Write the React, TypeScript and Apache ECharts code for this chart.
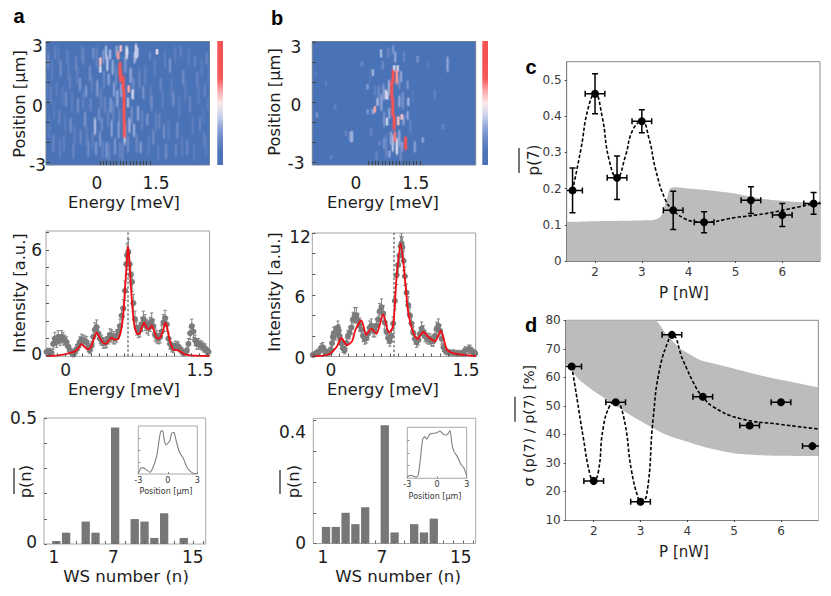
import React, { useEffect, useRef } from "react";
import * as echarts from "echarts";

// ---------- data ----------
const heatColors = ["#4a72b6","#4c74b7","#6685c2","#8ea4d7","#cbd5ee","#fde6e6","#faa8a8","#f65757","#f55353","#f55353","#f55353"];
// [energy, position top, position bottom, level]
const streaksA = [
[-1.58,1.2,.1,.14],[-1.52,-.6,-1.9,.15],[-1.44,2.2,1,.15],[-1.38,.2,-.9,.14],[-1.25,2.9,1.9,.15],[-1.2,-1.7,-2.9,.16],[-1.12,.9,-.2,.15],[-1.05,-.5,-1.6,.15],[-.95,2.1,1,.16],[-.84,.6,-.5,.16],[-.76,-1,-2.2,.16],[-.68,1.9,.8,.16],[-.55,2.9,2,.15],[-.5,.6,-.4,.17],[-.4,-1.1,-2.3,.17],[-.25,1.4,.4,.17],[-.22,-1.4,-2.4,.17],[-.1,2.9,1.6,.18],[.03,.8,-.4,.18],[.08,-1.8,-2.9,.18],[.12,1.7,.6,.19],[.24,-.2,-1.3,.18],[.28,-2,-3,.18],[.4,.2,-1,.19],[.48,1.9,.7,.2],[.58,-.2,-1.3,.2],[.68,-2,-3,.2],[.76,2.4,1.4,.25],[.84,-1.6,-2.6,.22],[.95,-.1,-1.2,.22],[1,1.3,.4,.22],[1.1,-1.5,-2.6,.2],[1.18,1.7,.6,.2],[1.26,-.3,-1.5,.18],[1.36,1.9,.8,.18],[1.46,-1.6,-2.7,.17],[1.52,.9,-.2,.17],[1.64,2.3,1.2,.17],[1.68,-.4,-1.6,.17],[1.75,-2,-3,.16],[1.88,.7,-.4,.16],[1.95,2.7,1.6,.16],[2.05,-.8,-2,.16],[2.15,1.3,.1,.16],[2.25,2.9,1.9,.16],[2.38,.4,-.8,.16],[2.46,-1.6,-2.8,.16],[2.56,1.2,0,.16],[2.66,2.8,1.7,.15],[2.78,-.6,-1.7,.16],[2.82,-2,-3,.15],[2.96,.9,-.2,.15],[3.05,2.3,1.2,.15],[3.1,-.2,-1.2,.14],[3.18,-1.6,-2.8,.15],[3.26,1.9,.7,.14],
[-1.55,2.6,1.6,.2],[-1.48,.9,-.1,.18],[-1.4,-1.5,-2.6,.2],[-1.35,2.9,2.1,.18],[-1.3,1.1,.2,.16],[-1.22,-.3,-1.2,.2],[-1.18,2.2,1.2,.22],[-1.08,-1.6,-2.5,.18],[-1.02,.6,-.3,.22],[-.98,2.7,1.9,.18],[-.9,1.5,.6,.18],[-.88,-.7,-1.6,.22],[-.8,-2,-2.9,.2],[-.72,2.4,1.5,.2],[-.66,.3,-.6,.22],[-.6,1.3,.5,.24],[-.58,-1.3,-2.2,.2],[-.5,2.8,1.8,.2],[-.45,-.4,-1.3,.24],[-.42,.9,.2,.25],[-.35,-1.8,-2.8,.22],[-.3,1.9,1,.22],[-.28,.3,-.5,.2],[-.2,2.8,2.1,.22],[-.15,-.7,-1.7,.34],[-.12,-1.9,-2.7,.24],[-.08,1.2,.2,.26],[-.03,-.2,-1,.22],[0,-1.4,-2.3,.24],[.05,-.7,-1.5,.22],[.1,2.7,1.9,.25],[.14,.4,-.6,.2],[.18,2.9,2.1,.33],[.2,-1.9,-2.9,.25],[.22,2.4,1.5,.36],[.26,1.5,.8,.28],[.3,2.7,2.1,.33],[.32,.3,-.6,.26],[.35,-.8,-1.8,.28],[.38,2.2,1.3,.3],[.42,1.1,.2,.26],[.45,-1.7,-2.7,.24],[.5,2.9,2.2,.3],[.52,.7,-.3,.3],[.56,-.9,-1.9,.26],[.6,-1.9,-2.9,.2],[.64,1,.2,.3],[.8,2.9,2.1,.42],[.84,.3,-.3,.34],[.88,-.7,-1.6,.32],[.92,1.8,.9,.3],[.98,.7,.1,.42],[1.02,-1,-1.8,.3],[1.04,2.6,1.9,.32],[1.08,3,2.1,.4],[1.12,2.8,2.2,.38],[1.14,-.1,-1,.28],[1.22,-1.9,-2.6,.26],[1.3,.9,.1,.24],[1.42,-.5,-1.2,.24],[1.5,2.6,2.1,.2],[1.71,2.7,2.37,.46],[1.92,-1,-1.9,.22],[1.78,-.5,-1.4,.2],[1.82,1.3,.5,.2],[1.98,-2,-2.9,.22],[2.1,2.3,1.4,.24],[2.2,.6,-.3,.22],[2.32,-.9,-1.9,.22],[2.5,1.7,.8,.22],[2.62,-1.8,-2.7,.2],[2.7,.4,-.6,.2],[2.85,2.4,1.7,.18],[2.92,1.6,.7,.2],[3.0,-.6,-1.5,.2],[3.12,-1.4,-2.3,.18],[3.2,2.6,1.8,.2],[3.24,.3,-.5,.16],[3.14,1,.2,.18],[2.42,2.9,2.2,.18],[2.28,-2,-2.8,.2],[1.6,-1.3,-2.2,.22],[1.55,.4,-.5,.22],
[.01,1.87,1.45,.42],[.01,2.3,1.8,.56],[.81,2.75,2.35,.42],[.74,-1,-2.2,.36],[.55,2.6,2.1,.62],[.62,2.9,2.5,.56],[.6,2.1,1.2,.76],[.62,1.7,.95,.76],[.7,1.4,.5,.82],[.72,.85,-1.2,.95],[.73,-.8,-1.85,.76],[.86,.9,.45,.6]
];
const streaksB = [
[-.48,-1.38,-2.05,.35],[-.52,-1.4,-2,.3],[.37,2.7,2.2,.33],[.78,2.6,1.95,.3],[.13,1.7,1.28,.33],[.27,.28,-.22,.35],[.5,.7,.12,.42],[.55,.6,.1,.42],[.54,-.72,-1.2,.4],[1.16,.28,-.22,.33],[1.14,-.4,-.9,.3],[.71,-1.55,-2.55,.36],[.83,-1.7,-2.7,.42],[.97,-1.9,-2.55,.3],[.61,-2.38,-2.8,.3],[2.3,2.37,1.45,.3],[1.58,-1.72,-2.05,.3],[1.43,2.37,1.95,.25],[1.93,.7,.12,.18],[2.16,-1.05,-1.38,.2],[-1.49,-.47,-.8,.25],[-1.52,1.6,1.28,.15],[-.96,-.05,-.38,.18],[-1.23,1.12,.78,.16],[-.65,-1.38,-1.72,.2],[-1.08,-2.63,-2.88,.2],[-.19,2.1,1.78,.22],[-.02,.95,.62,.28],[-.02,-.3,-.63,.25],[.13,-.3,-.63,.3],[1.35,-1.88,-2.55,.28],[1.72,2.1,1.6,.14],[1.04,2.6,1.95,.2],[1.14,1.12,.62,.25],[.95,1.62,.95,.3],[.42,2.1,1.6,.22],[.32,-1.88,-2.2,.2],[.08,-1.22,-1.72,.2],[.46,-1.72,-2.38,.25],[.61,-.22,-.88,.3],[.75,1.9,1.5,.42],[.85,1.9,1.5,.42],[.9,.4,-.3,.3],[.24,-2.4,-2.9,.2],[1.02,-.6,-1.2,.28],[.72,2.9,2.4,.25],[.58,2.8,2.2,.2],
[.3,.9,.1,.22],[.38,.5,-.5,.3],[.44,1,0,.26],[.6,1.2,.3,.32],[.9,1.3,.6,.22],[1,.6,-.4,.24],[.46,-.4,-1.3,.24],[.9,-1.3,-2.3,.3],[.66,-1.4,-2.2,.3],[.2,.9,.3,.18],[1.22,-.8,-1.6,.18],[.52,-1.5,-2.9,.2],[.94,-2.2,-3,.22],[.05,1.6,.9,.14],[1.3,.7,0,.14],
[.72,1.7,.9,.82],[.68,1.2,.05,.95],[.71,.35,-.8,.95],[.75,-.55,-1.45,.86],[.77,-1.4,-2.05,.66],[.83,1.7,.85,.62],[1.08,-1.65,-2.45,.84],[.87,-.65,-1.2,.56],[.97,-.55,-.9,.55],[.19,-.15,-.55,.6]
];
const heatXTicks = [0,.1,.2,.3,.4,.5,.6,.7,.8,.9,1,1.1,1.2,1.3,1.4,1.5];
const heatYTicks = [-3,-2,-1,0,1,2,3];
const heatXLabels = [0,1.5];
const heatYLabels = [-3,0,3];

// [energy, intensity, error]
const pointsA = [[-.23,.25,.2],[-.21,.25,.2],[-.19,.25,.2],[-.17,.2,.2],[-.15,.7,.3],[-.13,1,.35],[-.11,.8,.3],[-.09,1.1,.35],[-.07,.9,.3],[-.05,1.1,.35],[-.03,1,.35],[-.01,.9,.3],[.01,.8,.3],[.03,.55,.25],[.05,.35,.2],[.07,.2,.2],[.09,.1,.2],[.11,.25,.2],[.13,.4,.25],[.15,.6,.25],[.17,.8,.3],[.19,.95,.3],[.21,.9,.3],[.23,.85,.3],[.25,.8,.3],[.27,.5,.25],[.29,.35,.2],[.31,.6,.25],[.33,1.1,.35],[.35,1.5,.4],[.37,1.65,.4],[.39,1.3,.35],[.41,1,.3],[.43,.9,.3],[.45,.75,.3],[.47,.75,.3],[.49,.8,.3],[.51,1,.3],[.53,1.2,.35],[.55,1.15,.35],[.57,1.05,.35],[.59,1,.3],[.61,1.15,.35],[.63,1.4,.35],[.65,1.7,.4],[.67,2.3,.45],[.69,2.7,.5],[.71,3.7,.55],[.725,5.2,.6],[.735,5.7,.65],[.75,5.9,.7],[.765,5.2,.6],[.78,4.6,.6],[.795,4.2,.55],[.81,3,.5],[.83,2.1,.45],[.85,1.6,.4],[.87,1.4,.35],[.89,1.5,.4],[.91,1.8,.4],[.93,2.1,.45],[.95,1.9,.45],[.97,1.7,.4],[.99,1.6,.4],[1.01,1.8,.4],[1.03,2,.45],[1.05,1.7,.4],[1.07,1.2,.35],[1.09,1.1,.35],[1.11,1,.3],[1.13,1.1,.35],[1.15,1.4,.35],[1.17,1.9,.45],[1.19,2.15,.45],[1.21,1.8,.4],[1.23,1,.3],[1.25,.7,.3],[1.27,.5,.25],[1.29,.45,.25],[1.31,.6,.25],[1.33,.6,.25],[1.35,.55,.25],[1.37,.4,.2],[1.39,.3,.2],[1.41,.2,.2],[1.43,.2,.2],[1.45,.3,.2],[1.47,.7,.3],[1.49,1.3,.35],[1.51,1.7,.4],[1.53,1.4,.35],[1.55,.9,.3],[1.57,.7,.3],[1.59,.7,.3],[1.61,.65,.25],[1.63,.6,.25],[1.65,.5,.25],[1.67,.45,.25],[1.69,.3,.2],[1.71,.25,.2]];
const fitA = [[-.23,.02],[-.1,.05],[0,.12],[.05,.2],[.1,.25],[.15,.45],[.19,.7],[.22,.55],[.26,.4],[.3,.5],[.33,.9],[.37,1.35],[.4,1.1],[.44,.8],[.48,.7],[.52,.9],[.55,1.05],[.58,.95],[.62,.95],[.66,1.4],[.69,2.4],[.71,3.8],[.73,5.2],[.745,6.2],[.76,5.6],[.78,4],[.8,2.7],[.82,1.8],[.85,1.3],[.88,1.25],[.91,1.6],[.94,1.9],[.97,1.6],[1,1.55],[1.03,1.75],[1.07,1.25],[1.1,1],[1.13,1.05],[1.17,1.5],[1.19,1.9],[1.21,1.75],[1.24,1],[1.27,.55],[1.3,.35],[1.34,.35],[1.38,.25],[1.42,.12],[1.5,.05],[1.72,.01]];
const pointsB = [[-.22,.15,.25],[-.2,.2,.25],[-.18,.3,.3],[-.16,.4,.3],[-.14,.5,.35],[-.12,.85,.4],[-.1,.9,.45],[-.08,.6,.35],[-.06,.35,.3],[-.04,.35,.3],[-.02,.5,.35],[0,.6,.35],[.01,1.3,.5],[.02,1.9,.55],[.03,2.2,.6],[.04,2.3,.6],[.05,2.2,.6],[.07,2.4,.6],[.08,2.8,.65],[.09,2.5,.6],[.1,2,.55],[.11,1.6,.5],[.12,1.3,.5],[.14,.8,.4],[.16,.6,.35],[.18,1.3,.5],[.2,2,.55],[.22,2.3,.6],[.24,2.8,.65],[.26,3.6,.7],[.28,4,.75],[.3,4,.75],[.32,3.5,.7],[.34,3.1,.65],[.36,2.6,.6],[.38,2,.55],[.4,1.7,.5],[.42,1.8,.5],[.44,2.2,.6],[.46,2.8,.65],[.48,3,.65],[.5,2.5,.6],[.52,2.5,.6],[.54,3,.65],[.56,3.6,.7],[.58,4.4,.75],[.6,4.8,.8],[.62,4.2,.75],[.64,3.3,.65],[.66,2.4,.6],[.68,1.8,.5],[.7,1.5,.5],[.72,2,.55],[.74,3.2,.65],[.76,5.4,.8],[.78,7.9,.9],[.8,8.9,.95],[.815,9.8,1],[.83,10.7,1],[.84,11,1],[.85,10.6,1],[.865,9.3,.95],[.88,7.8,.9],[.9,6.2,.85],[.92,5,.8],[.94,4,.75],[.96,3.2,.65],[.98,2.3,.6],[1,1.7,.5],[1.02,1.4,.5],[1.04,1.6,.5],[1.06,2.2,.6],[1.08,2.7,.65],[1.1,2.4,.6],[1.12,2,.55],[1.14,1.8,.5],[1.16,1.7,.5],[1.18,1.7,.5],[1.2,1.5,.5],[1.22,1.5,.5],[1.24,2,.55],[1.26,2.7,.65],[1.28,3,.65],[1.3,2.5,.6],[1.32,1.7,.5],[1.34,.9,.4],[1.36,.6,.35],[1.38,.45,.3],[1.42,.35,.3],[1.46,.35,.3],[1.5,.3,.3],[1.54,.3,.3],[1.58,.3,.3],[1.6,.6,.35],[1.64,.7,.4],[1.66,.7,.4],[1.68,.5,.35],[1.7,.4,.3],[1.72,.3,.3]];
const fitB = [[-.23,.02],[-.1,.08],[-.01,.3],[.07,1],[.12,1.8],[.19,1.1],[.25,1.5],[.29,2.6],[.36,3.5],[.42,2.1],[.48,2.7],[.54,2.2],[.62,4.1],[.69,2.3],[.74,3],[.78,7.6],[.83,11],[.88,7.6],[.92,4.3],[.98,2.3],[1.03,1.7],[1.1,2.4],[1.16,1.9],[1.24,1.5],[1.31,2.5],[1.38,.7],[1.46,.3],[1.73,.05]];
const lineXTicks = [-.2,-.1,0,.1,.2,.3,.4,.5,.6,.7,.8,.9,1,1.1,1.2,1.3,1.4,1.5,1.6,1.7];
const lineAYTicks = [0,1,2,3,4,5,6,7];
const lineBYTicks = [0,2,4,6,8,10,12];
const lineXLabels = [0,1.5];
const lineAYLabels = [0,6];
const lineBYLabels = [0,6,12];
const markerA = [[.746,0],[.746,7.1]];
const markerB = [[.75,0],[.75,12]];

const barsA = [[1,.012],[2,.045],[4,.089],[5,.045],[7,.462],[9,.099],[10,.089],[11,.024],[12,.122],[14,.024]];
const barsB = [[1,.054],[2,.054],[3,.1],[4,.063],[5,.118],[7,.385],[8,.036],[10,.063],[11,.036],[12,.081]];
const wsTicks = [1,2,3,4,5,6,7,8,9,10,11,12,13,14,15,16];
const wsLabels = [1,7,15];
const barsAYTicks = [0,.1,.2,.3,.4,.5];
const barsBYTicks = [0,.1,.2,.3,.4];
const barsAYLabels = [0,.5];
const barsBYLabels = [0,.4];
const insetA = [[-3,.014],[-2.76,.118],[-2.49,.132],[-2.15,.083],[-1.81,.035],[-1.54,.118],[-1.14,.361],[-.93,.639],[-.73,.882],[-.53,.903],[-.36,.708],[-.19,.604],[.05,.653],[.22,.694],[.39,.847],[.63,.868],[.83,.708],[1.17,.465],[1.58,.326],[1.92,.153],[2.25,.063],[2.59,.014],[3,.007]];
const insetB = [[-3,.02],[-2.73,.059],[-2.39,.046],[-2.12,.02],[-1.89,.065],[-1.65,.425],[-1.45,.765],[-1.21,.817],[-1.04,.765],[-.71,.869],[-.37,.882],[-.03,.895],[.3,.928],[.64,.863],[.98,.85],[1.31,.935],[1.52,.654],[1.72,.523],[2.06,.425],[2.39,.281],[2.73,.196],[3,.046]];
const insetTicks = [-3,0,3];

const powerC = [
  [1.52,.195,.21,.062],[2,.462,.21,.055],[2.47,.23,.21,.06],[3,.386,.21,.032],[3.67,.14,.21,.053],
  [4.33,.107,.21,.029],[5.33,.168,.21,.037],[6,.127,.21,.032],[6.67,.159,.21,.03]];
const fitC = [[1.52,.195],[1.7,.31],[1.85,.42],[2,.462],[2.15,.4],[2.3,.28],[2.47,.23],[2.65,.29],[2.8,.36],[3,.386],[3.15,.34],[3.3,.25],[3.5,.17],[3.67,.14],[3.9,.118],[4.1,.109],[4.33,.107],[5,.12],[5.5,.128],[6,.14],[6.8,.162]];
const bandC = [[1.395,.108],[2,.11],[3,.112],[3.25,.113],[3.4,.122],[3.46,.141],[3.54,.175],[3.6,.2],[3.68,.204],[4.2,.198],[4.95,.187],[5.6,.171],[6.1,.165],[6.806,.159]];
const powerD = [
  [1.53,63.8,.21,0],[2,23.7,.21,0],[2.47,51.3,.21,0],[3,16.4,.21,0],[3.67,74.9,.21,0],
  [4.33,53.2,.21,0],[5.33,43.1,.21,0],[6,51.3,.21,0],[6.67,35.9,.21,0]];
const fitD = [[1.53,63.8],[1.6,57],[1.78,38.6],[1.92,26],[2,23.7],[2.1,27],[2.2,42],[2.35,50.3],[2.47,51.3],[2.63,46.8],[2.81,27],[2.95,17.6],[3,16.4],[3.13,18.7],[3.27,45.6],[3.41,63],[3.63,74.5],[3.67,74.9],[3.92,65.5],[4.2,56],[4.33,53.2],[4.55,49.7],[5.12,45.6],[6,43.5],[6.8,41.9]];
const bandDUpper = [[1.402,80],[3.31,80],[3.56,74.9],[3.84,70.2],[4.27,66.1],[4.63,64.6],[5.69,60.2],[6.797,56.5]];
const bandDLower = [[1.402,65],[1.7,59],[2.13,53.8],[2.84,46.2],[3.56,39.8],[4.41,35.4],[4.98,33.4],[5.69,32.6],[6.797,32.4]];
const powerTicks = [2,3,4,5,6];
const valueTicksC = [0,.1,.2,.3,.4,.5];
const valueTicksD = [10,20,30,40,50,60,70,80];

// ---------- layout ----------
const SANS = '"DejaVu Sans", sans-serif';
const INK = "#1c1c1c";
const GRAY = "#7b7b7b";

export default function App() {
  const ref = useRef<HTMLDivElement>(null);
  useEffect(() => {
    document.body.style.margin = "0";
    document.body.style.overflow = "hidden";
    const chart = echarts.init(ref.current!, undefined, { renderer: "svg" });

    const grid: any[] = [], xAxis: any[] = [], yAxis: any[] = [], series: any[] = [];

    const addPanel = (r: number[], xr: number[], yr: number[], xTicks: number[], yTicks: number[], o: any = {}) => {
      const i = grid.length;
      grid.push({ left: r[0], top: r[1], width: r[2] - r[0], height: r[3] - r[1], show: true, z: 0,
        backgroundColor: o.bg ?? "transparent", borderColor: o.border ?? "#a3a3a3", borderWidth: 1 });
      const tick = { show: true, inside: o.inside ?? true, length: o.tickLen ?? 3, lineStyle: { color: o.tick ?? "#555", width: 1 } };
      const label = o.labels ? { show: true, fontFamily: SANS, fontSize: o.labelSize, color: o.labelColor ?? INK, margin: o.labelMargin ?? 6, hideOverlap: false } : { show: false };
      xAxis.push({ gridIndex: i, type: "value", min: xr[0], max: xr[1], z: 6,
        axisLine: { show: o.spine ?? false, onZero: false, lineStyle: { color: "#808080" } },
        axisTick: { ...tick, customValues: xTicks }, splitLine: { show: false },
        axisLabel: { ...label, customValues: o.xLabels ?? xTicks } });
      yAxis.push({ gridIndex: i, type: "value", min: yr[0], max: yr[1], z: 6,
        axisLine: { show: o.spine ?? false, onZero: false, lineStyle: { color: "#808080" } },
        axisTick: { ...tick, show: o.yTickShow ?? true, customValues: yTicks }, splitLine: { show: false },
        axisLabel: { ...label, customValues: o.yLabels ?? yTicks, show: o.yLabelShow ?? label.show } });
      return i;
    };

    // Tick labels of panels a and b sit apart from their ticks in the figure, so they get their own scale.
    const addLabels = (xPx: number[], xVals: number[], xCy: number, yPx: number[], yVals: number[], yAnchor: number, yAlign: string) => {
      const i = grid.length;
      grid.push({ left: xPx[0], width: xPx[1] - xPx[0], top: yPx[0], height: yPx[1] - yPx[0], show: false });
      const lbl = { show: true, fontFamily: SANS, fontSize: 17, color: INK, margin: 0, hideOverlap: false };
      xAxis.push({ gridIndex: i, type: "value", min: xVals[0], max: xVals[xVals.length - 1], offset: xCy - yPx[1],
        axisLine: { show: false, onZero: false }, axisTick: { show: false }, splitLine: { show: false },
        axisLabel: { ...lbl, customValues: xVals, verticalAlign: "middle", align: "center" } });
      yAxis.push({ gridIndex: i, type: "value", min: yVals[0], max: yVals[yVals.length - 1], offset: xPx[0] - yAnchor,
        axisLine: { show: false, onZero: false }, axisTick: { show: false }, splitLine: { show: false },
        axisLabel: { ...lbl, customValues: yVals, align: yAlign, verticalAlign: "middle" } });
    };

    const streakItem = (_p: any, api: any) => {
      const e = api.value(0);
      const a = api.coord([e, api.value(1)]);
      const b = api.coord([e, api.value(2)]);
      const c = api.visual("color");
      const level = api.value(3);
      const w = level > 0.7 ? 2.4 : 1.8;
      const clear = echarts.color.modifyAlpha(c, 0);
      const fill = () => new echarts.graphic.LinearGradient(0, 0, 0, 1, [
        { offset: 0, color: clear }, { offset: 0.2, color: c }, { offset: 0.8, color: c }, { offset: 1, color: clear }]);
      const rect = (width: number, opacity: number) => ({ type: "rect",
        shape: { x: a[0] - width / 2, y: a[1], width, height: b[1] - a[1] }, style: { fill: fill(), opacity } });
      return { type: "group", children: [rect(w + 2, 0.35), rect(w, 1)] };
    };

    const errorItem = (color: string, w: number, cap: number) => (_p: any, api: any) => {
      const x = api.value(0), y = api.value(1), dx = api.value(2), dy = api.value(3);
      const kids: any[] = [];
      const style = { stroke: color, lineWidth: w };
      if (dy) {
        const t = api.coord([x, y + dy]), b = api.coord([x, y - dy]);
        kids.push({ type: "line", shape: { x1: t[0], y1: t[1], x2: b[0], y2: b[1] }, style });
        kids.push({ type: "line", shape: { x1: t[0] - cap, y1: t[1], x2: t[0] + cap, y2: t[1] }, style });
        kids.push({ type: "line", shape: { x1: b[0] - cap, y1: b[1], x2: b[0] + cap, y2: b[1] }, style });
      }
      if (dx) {
        const l = api.coord([x - dx, y]), r = api.coord([x + dx, y]);
        kids.push({ type: "line", shape: { x1: l[0], y1: l[1], x2: r[0], y2: r[1] }, style });
        kids.push({ type: "line", shape: { x1: l[0], y1: l[1] - cap, x2: l[0], y2: l[1] + cap }, style });
        kids.push({ type: "line", shape: { x1: r[0], y1: r[1] - cap, x2: r[0], y2: r[1] + cap }, style });
      }
      return { type: "group", children: kids };
    };

    // ---- heat maps
    const heat = (r: number[], xr: number[], streaks: number[][]) => {
      const i = addPanel(r, xr, [-3.135, 3.05], heatXTicks, heatYTicks, { bg: heatColors[0], border: "#6f7f95", tickLen: 4, tick: "#444" });
      series.push({ type: "custom", name: "map", xAxisIndex: i, yAxisIndex: i, coordinateSystem: "cartesian2d", clip: true,
        renderItem: streakItem, encode: { x: 0, y: [1, 2] }, data: streaks, silent: true });
    };
    heat([46, 41.5, 209.5, 165], [-1.62, 3.285], streaksA);
    heat([312.3, 41.5, 475.7, 165], [-1.625, 3.116], streaksB);
    addLabels([97, 156], heatXLabels, 183, [46, 165], heatYLabels, 37.5, "center");
    addLabels([356, 415.7], heatXLabels, 183, [47, 163], heatYLabels, 296, "center");

    // ---- spectra
    const spectrum = (r: number[], xr: number[], yr: number[], yTicks: number[], points: number[][], fit: number[][], marker: number[][]) => {
      const i = addPanel(r, xr, yr, lineXTicks, yTicks, { tick: "#555" });
      const on = { xAxisIndex: i, yAxisIndex: i };
      series.push({ type: "line", ...on, z: 1, data: marker, symbol: "none", lineStyle: { color: "#666", width: 1.3, type: [2.5, 2] } });
      series.push({ type: "custom", ...on, z: 2, renderItem: errorItem("#808080", 1, 1.6), encode: { x: 0, y: 1 },
        data: points.map((p) => [p[0], p[1], 0, p[2]]), clip: true, silent: true });
      series.push({ type: "scatter", ...on, z: 3, data: points.map((p) => [p[0], p[1]]), symbolSize: 6, itemStyle: { color: GRAY, opacity: 1 } });
      series.push({ type: "line", ...on, z: 4, data: fit, smooth: 0.25, symbol: "none", lineStyle: { color: "#f40a12", width: 1.8 } });
    };
    spectrum([46, 231, 209.5, 356.3], [-.236, 1.722], [0, 7.07], lineAYTicks, pointsA, fitA, markerA);
    spectrum([312.3, 233, 475.7, 356.5], [-.226, 1.726], [0, 12], lineBYTicks, pointsB, fitB, markerB);
    addLabels([65.7, 200], lineXLabels, 370, [250, 354], lineAYLabels, 36.7, "center");
    addLabels([331, 466], lineXLabels, 370, [236.7, 357.7], lineBYLabels, 300, "center");

    // ---- WS number bars
    const bars = (r: number[], xr: number[], yr: number[], yTicks: number[], data: number[][]) => {
      const i = addPanel(r, xr, yr, wsTicks, yTicks, { border: "#a8a8a8", tick: "#666", labels: false });
      series.push({ type: "bar", xAxisIndex: i, yAxisIndex: i, data, barWidth: 8.3, itemStyle: { color: "#777777" } });
    };
    bars([44, 418, 205.7, 544], [-.255, 16.24], [0, .5], barsAYTicks, barsA);
    bars([313.3, 418.3, 475.7, 543.5], [-.296, 16.28], [0, .4076], barsBYTicks, barsB);
    addLabels([54, 192.7], wsLabels, 557, [418, 542], barsAYLabels, 37, "right");
    addLabels([323, 460.7], wsLabels, 557, [432, 543], barsBYLabels, 306, "right");

    const inset = (r: number[], data: number[][]) => {
      const i = addPanel(r, [-3, 3], [0, 1], insetTicks, [.25, .5, .75], { bg: "#ffffff", border: "#a8a8a8", tick: "#888", tickLen: 2,
        labels: true, labelSize: 8, labelMargin: 2, labelColor: "#333", yLabelShow: false, xLabels: insetTicks });
      series.push({ type: "line", xAxisIndex: i, yAxisIndex: i, data, symbol: "none", smooth: 0.2, lineStyle: { color: "#808080", width: 1.1 } });
    };
    inset([138.3, 426, 197.3, 474], insetA);
    inset([407.3, 427.3, 466.7, 478.3], insetB);

    // ---- power dependence
    const power = (r: number[], xr: number[], yr: number[], yTicks: number[]) =>
      addPanel(r, xr, yr, powerTicks, yTicks, { border: "#8a8a8a", tick: "#444", inside: false, tickLen: 2, labels: true, labelSize: 12, labelColor: "#3a3a3a", labelMargin: 5, spine: true });
    const dashed = { color: "#000", width: 1.6, type: [3.5, 2] };
    const ic = power([566.7, 61.7, 820, 261], [1.395, 6.806], [0, .5505], valueTicksC);
    series.push({ type: "line", z: 1, xAxisIndex: ic, yAxisIndex: ic, data: bandC, smooth: 0.2, symbol: "none", lineStyle: { width: 0 }, areaStyle: { color: "#bcbcbc", opacity: 1 } });
    series.push({ type: "line", z: 3, xAxisIndex: ic, yAxisIndex: ic, data: fitC, smooth: true, symbol: "none", lineStyle: dashed });
    series.push({ type: "custom", z: 4, xAxisIndex: ic, yAxisIndex: ic, renderItem: errorItem("#000", 1.5, 3), encode: { x: 0, y: 1 }, data: powerC, clip: true, silent: true });
    series.push({ type: "scatter", z: 5, xAxisIndex: ic, yAxisIndex: ic, data: powerC.map((p) => [p[0], p[1]]), symbolSize: 8, itemStyle: { color: "#000", opacity: 1 } });

    const id = power([565.7, 320.3, 818.3, 520], [1.402, 6.797], [10, 80], valueTicksD);
    series.push({ type: "line", z: 1, xAxisIndex: id, yAxisIndex: id, data: bandDUpper, smooth: 0.15, symbol: "none", lineStyle: { width: 0 }, areaStyle: { color: "#bcbcbc", opacity: 1 } });
    series.push({ type: "line", z: 1, xAxisIndex: id, yAxisIndex: id, data: bandDLower, smooth: 0.15, symbol: "none", lineStyle: { width: 0 }, areaStyle: { color: "#ffffff", opacity: 1 } });
    series.push({ type: "line", z: 3, xAxisIndex: id, yAxisIndex: id, data: fitD, smooth: true, symbol: "none", lineStyle: dashed });
    series.push({ type: "custom", z: 4, xAxisIndex: id, yAxisIndex: id, renderItem: errorItem("#000", 1.5, 3), encode: { x: 0, y: 1 }, data: powerD, clip: true, silent: true });
    series.push({ type: "scatter", z: 5, xAxisIndex: id, yAxisIndex: id, data: powerD.map((p) => [p[0], p[1]]), symbolSize: 8, itemStyle: { color: "#000", opacity: 1 } });

    // ---- names and letters
    const txt = (text: string, x: number, y: number, size: number, o: any = {}) => ({
      type: "text", x, y, rotation: o.rot ? Math.PI / 2 : 0, z: 20, silent: true,
      style: { text, fontFamily: o.family ?? SANS, fontSize: size, fontWeight: o.bold ? "bold" : "normal", fill: o.fill ?? INK,
        textAlign: "center", textVerticalAlign: "middle", align: "center", verticalAlign: "middle" } });
    const rule = (x: number, y0: number, y1: number) => ({ type: "line", z: 20, silent: true,
      shape: { x1: x, y1: y0, x2: x, y2: y1 }, style: { stroke: INK, lineWidth: 1.2 } });
    const letter = { bold: true, family: '"Liberation Sans", Arial, sans-serif', fill: "#000" };
    const colorbar = (x: number) => ({ type: "rect", z: 20, silent: true, shape: { x, y: 41, width: 5.7, height: 124 },
      style: { fill: new echarts.graphic.LinearGradient(0, 1, 0, 0, heatColors.map((color, k) => ({ offset: k / (heatColors.length - 1), color }))) } });
    const graphic = [
      colorbar(217.3), colorbar(482.3),
      txt("a", 19, 16, 20, letter), txt("b", 277, 18, 20, letter), txt("c", 531, 67, 20, letter), txt("d", 531, 325, 20, letter),
      txt("Energy [meV]", 124, 202, 16.3), txt("Energy [meV]", 383, 202, 16.3),
      txt("Position [µm]", 19, 104, 16.3, { rot: true }), txt("Position [µm]", 274, 102, 16.3, { rot: true }),
      txt("Energy [meV]", 124, 389, 16.3), txt("Energy [meV]", 383, 389, 16.3),
      txt("Intensity [a.u.]", 19, 293, 16.3, { rot: true }), txt("Intensity [a.u.]", 274, 292, 16.3, { rot: true }),
      txt("WS number (n)", 126, 576.5, 16.6), txt("WS number (n)", 398, 576.5, 16.6),
      txt("p(n)", 25, 481.7, 16.3, { rot: true }), rule(14, 468, 494),
      txt("p(n)", 293, 481.7, 16.3, { rot: true }), rule(280, 470, 494),
      txt("Position [µm]", 166, 491, 8, { fill: "#333" }), txt("Position [µm]", 435, 496, 8, { fill: "#333" }),
      txt("P [nW]", 684, 292.7, 15), txt("P [nW]", 684, 552, 15),
      txt("p(7)", 534, 160, 15, { rot: true }), rule(519, 148, 173),
      txt("σ (p(7) / p(7) [%]", 529, 425.7, 14.4, { rot: true }), rule(515, 396.7, 421.7),
    ];

    const bar = (idx: number) => ({ type: "continuous", show: false, min: 0, max: 1, seriesIndex: idx, dimension: 3, inRange: { color: heatColors } });

    chart.setOption({
      animation: false,
      backgroundColor: "#ffffff",
      textStyle: { fontFamily: SANS },
      grid, xAxis, yAxis, series, graphic,
      visualMap: [bar(0), bar(1)],
    });
    return () => chart.dispose();
  }, []);
  return <div ref={ref} style={{ width: 831, height: 596 }} />;
}
